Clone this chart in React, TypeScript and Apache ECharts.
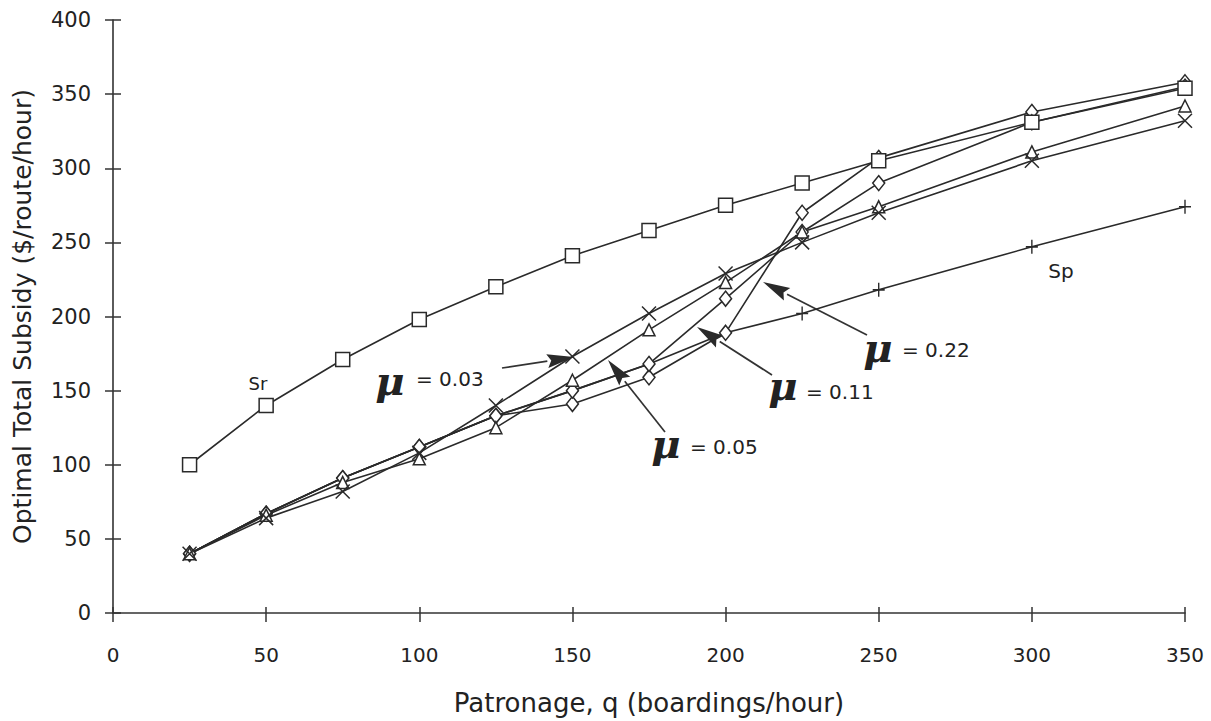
import React, { useEffect, useRef } from "react";
import * as echarts from "echarts";

// ---- data ----
const qValues = [25, 50, 75, 100, 125, 150, 175, 200, 225, 250, 300, 350];
const srValues = [100, 140, 171, 198, 220, 241, 258, 275, 290, 305, 331, 354];
const spValues = [40, 67, 91, 112, 133, 150, 168, 189, 202, 218, 247, 274];
const mu003Values = [40, 64, 82, 108, 140, 173, 202, 229, 250, 270, 305, 332];
const mu005Values = [40, 66, 88, 104, 125, 157, 191, 223, 257, 274, 311, 342];
const mu011Values = [40, 67, 91, 112, 133, 150, 168, 212, 257, 290, 331, 355];
const mu022Values = [40, 67, 91, 112, 133, 141, 159, 189, 270, 307, 338, 358];
const xTicks = [0, 50, 100, 150, 200, 250, 300, 350];
const yTicks = [0, 50, 100, 150, 200, 250, 300, 350, 400];

const FONT = "DejaVu Sans";
const INK = "#222";

const plusPath = "path://M5,0L5,10M0,5L10,5";
const crossPath = "path://M0,0L10,10M10,0L0,10";

function pairs(vals: number[]) {
  return qValues.map((q, i) => [q, vals[i]]);
}

function arrow(x1: number, y1: number, x2: number, y2: number) {
  const dx = x2 - x1;
  const dy = y2 - y1;
  const len = Math.sqrt(dx * dx + dy * dy);
  const ux = dx / len;
  const uy = dy / len;
  const hl = 27;
  const hw = 7;
  const bx = x2 - ux * hl;
  const by = y2 - uy * hl;
  return [
    {
      type: "line",
      shape: { x1, y1, x2: bx, y2: by },
      style: { stroke: "#333", lineWidth: 1.7 },
    },
    {
      type: "polygon",
      shape: {
        points: [
          [x2, y2],
          [bx - uy * hw, by + ux * hw],
          [bx + ux * 4, by + uy * 4],
          [bx + uy * hw, by - ux * hw],
        ],
      },
      style: { fill: "#2a2a2a" },
    },
  ];
}

function muLabel(mx: number, my: number, tx: number, ty: number, val: string) {
  return [
    {
      type: "text",
      x: mx,
      y: my,
      style: {
        text: "μ",
        font: 'italic bold 40px "DejaVu Serif"',
        fill: INK,
        textAlign: "center",
        textVerticalAlign: "middle",
      },
    },
    {
      type: "text",
      x: tx,
      y: ty,
      style: {
        text: "= " + val,
        font: '20px "DejaVu Sans"',
        fill: INK,
        textAlign: "left",
        textVerticalAlign: "middle",
      },
    },
  ];
}

export default function App() {
  const ref = useRef<HTMLDivElement>(null);

  useEffect(() => {
    if (!ref.current) return;
    const chart = echarts.init(ref.current, null, { renderer: "svg" });

    const lineStyle = { color: "#2a2a2a", width: 1.6 };
    const item = { color: "#fff", borderColor: "#2a2a2a", borderWidth: 1.5 };

    const gridRect = { left: 113, right: 26, top: 20, bottom: 108 };

    const option: any = {
      animation: false,
      backgroundColor: "#fff",
      grid: [gridRect, gridRect],
      xAxis: [
        {
          type: "value",
          gridIndex: 0,
          min: 0,
          max: 350,
          interval: 50,
          name: "Patronage, q (boardings/hour)",
          nameLocation: "middle",
          nameGap: 77,
          nameTextStyle: { fontFamily: FONT, fontSize: 26, color: INK },
          axisLine: { show: true, lineStyle: { color: "#333", width: 1.6 } },
          axisTick: { show: true, length: 9, lineStyle: { color: "#333", width: 1.5 } },
          axisLabel: {
            margin: 32,
            fontFamily: FONT,
            fontSize: 20,
            color: INK,
            formatter: (v: number) => (xTicks.includes(v) ? String(v) : ""),
          },
          splitLine: { show: false },
        },
        {
          type: "value",
          gridIndex: 1,
          min: 0,
          max: 350,
          interval: 50,
          axisLine: { show: false },
          axisTick: { show: true, inside: true, length: 6, lineStyle: { color: "#333", width: 1.5 } },
          axisLabel: { show: false },
          splitLine: { show: false },
        },
      ],
      yAxis: [
        {
          type: "value",
          gridIndex: 0,
          min: 0,
          max: 400,
          interval: 50,
          name: "Optimal Total Subsidy ($/route/hour)",
          nameLocation: "middle",
          nameGap: 78,
          nameTextStyle: { fontFamily: FONT, fontSize: 25, color: INK },
          axisLine: { show: true, lineStyle: { color: "#333", width: 1.6 } },
          axisTick: { show: true, length: 8, lineStyle: { color: "#333", width: 1.5 } },
          axisLabel: {
            margin: 22,
            fontFamily: FONT,
            fontSize: 21,
            color: INK,
            formatter: (v: number) => (yTicks.includes(v) ? String(v) : ""),
          },
          splitLine: { show: false },
        },
        {
          type: "value",
          gridIndex: 1,
          min: 0,
          max: 400,
          interval: 50,
          axisLine: { show: false },
          axisTick: { show: true, inside: true, length: 8, lineStyle: { color: "#333", width: 1.5 } },
          axisLabel: { show: false },
          splitLine: { show: false },
        },
      ],
      series: [
        {
          name: "Sp",
          type: "line",
          data: pairs(spValues),
          symbol: plusPath,
          symbolSize: [12, 14],
          lineStyle,
          itemStyle: item,
        },
        {
          name: "μ = 0.22",
          type: "line",
          data: pairs(mu022Values),
          symbol: "diamond",
          symbolSize: [12, 15],
          lineStyle,
          itemStyle: item,
        },
        {
          name: "μ = 0.11",
          type: "line",
          data: pairs(mu011Values),
          symbol: "diamond",
          symbolSize: [12, 15],
          lineStyle,
          itemStyle: item,
        },
        {
          name: "μ = 0.05",
          type: "line",
          data: pairs(mu005Values),
          symbol: "triangle",
          symbolSize: [12, 12],
          lineStyle,
          itemStyle: item,
        },
        {
          name: "μ = 0.03",
          type: "line",
          data: pairs(mu003Values),
          symbol: crossPath,
          symbolSize: [14, 14],
          lineStyle,
          itemStyle: item,
        },
        {
          name: "Sr",
          type: "line",
          data: pairs(srValues),
          symbol: "rect",
          symbolSize: [14, 14],
          lineStyle,
          itemStyle: item,
        },
      ],
      graphic: [
        {
          type: "text",
          x: 258,
          y: 383,
          style: {
            text: "Sr",
            font: '18px "DejaVu Sans"',
            fill: INK,
            textAlign: "center",
            textVerticalAlign: "middle",
          },
        },
        {
          type: "text",
          x: 1061,
          y: 271,
          style: {
            text: "Sp",
            font: '20px "DejaVu Sans"',
            fill: INK,
            textAlign: "center",
            textVerticalAlign: "middle",
          },
        },
        ...arrow(502, 368, 574, 357),
        ...arrow(665, 432, 608, 360),
        ...arrow(772, 375, 697, 327),
        ...arrow(867, 335, 763, 282),
        ...muLabel(390, 380, 416, 379, "0.03"),
        ...muLabel(666, 443, 690, 447, "0.05"),
        ...muLabel(783, 385, 806, 392, "0.11"),
        ...muLabel(878, 347, 902, 350, "0.22"),
      ],
    };

    chart.setOption(option);
    return () => chart.dispose();
  }, []);

  return (
    <div
      ref={ref}
      style={{ position: "fixed", left: 0, top: 0, width: 1211, height: 721, background: "#fff" }}
    />
  );
}
